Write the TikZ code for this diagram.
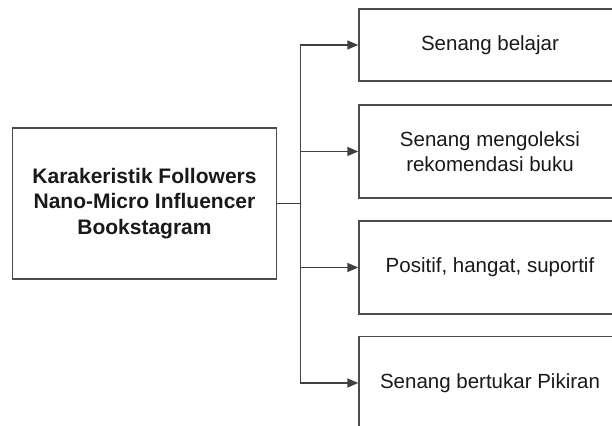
\documentclass[tikz,border=0pt]{standalone}
\usepackage{fontspec}
\setmainfont{Liberation Sans}
\usetikzlibrary{arrows.meta}

\begin{document}
\begin{tikzpicture}[x=1pt, y=1pt, line width=1.4pt,
  every node/.style={draw=black!70, align=center, text=black!90, inner sep=0pt,
    font=\fontsize{20.5}{25}\selectfont},
  itembox/.style={minimum width=262pt, minimum height=93pt},
  arr/.style={draw=black!75, -{Triangle[length=11pt, width=9pt]}}]
  \useasboundingbox (0,0) rectangle (612,425);
  \clip (0,0) rectangle (612,425);
  \node[minimum width=264pt, minimum height=151pt,
    font=\fontsize{21}{25.5}\selectfont\bfseries] (main) at (144.5,221.5)
    {Karakeristik Followers\\Nano-Micro Influencer\\Bookstagram};
  \node[itembox, minimum height=72pt] (b1) at (490,380) {Senang belajar};
  \node[itembox] (b2) at (490,273.5) {Senang mengoleksi\\rekomendasi buku};
  \node[itembox] (b3) at (490,157.5) {Positif, hangat, suportif};
  \node[itembox] (b4) at (490,42) {Senang bertukar Pikiran};
  \coordinate (bus) at ([xshift=23.5pt]main.east);
  \draw[black!75] (main.east) -- (bus);
  \foreach \b in {b1,b2,b3,b4}
    \draw[arr] (bus) |- (\b.west);
\end{tikzpicture}
\end{document}
